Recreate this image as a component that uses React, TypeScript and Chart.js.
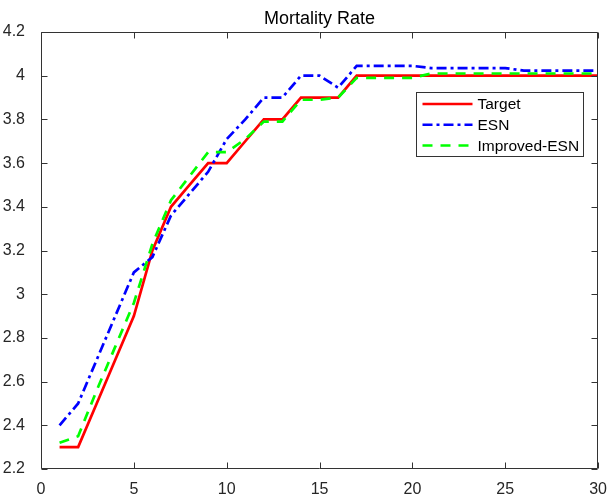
import React, { useEffect, useRef } from "react";
import { Chart, registerables } from "chart.js";

Chart.register(...registerables);

const titleText = "Mortality Rate";
const xValues = [1, 2, 3, 4, 5, 6, 7, 8, 9, 10, 11, 12, 13, 14, 15, 16, 17, 18, 19, 20, 21, 22, 23, 24, 25, 26, 27, 28, 29, 30];
const targetValues = [2.3, 2.3, 2.5, 2.7, 2.9, 3.2, 3.4, 3.5, 3.6, 3.6, 3.7, 3.8, 3.8, 3.9, 3.9, 3.9, 4.0, 4.0, 4.0, 4.0, 4.0, 4.0, 4.0, 4.0, 4.0, 4.0, 4.0, 4.0, 4.0, 4.0];
const esnValues = [2.4, 2.5, 2.7, 2.9, 3.1, 3.17, 3.36, 3.46, 3.56, 3.71, 3.8, 3.9, 3.9, 4.0, 4.0, 3.945, 4.045, 4.045, 4.045, 4.045, 4.035, 4.035, 4.035, 4.035, 4.035, 4.023, 4.023, 4.023, 4.023, 4.023];
const improvedValues = [2.32, 2.35, 2.56, 2.76, 2.96, 3.23, 3.43, 3.54, 3.65, 3.65, 3.71, 3.79, 3.79, 3.89, 3.89, 3.9, 3.99, 3.99, 3.99, 3.99, 4.01, 4.01, 4.01, 4.01, 4.01, 4.01, 4.01, 4.01, 4.01, 4.01];
const seriesNames = ["Target", "ESN", "Improved-ESN"];
const xTicks = [0, 5, 10, 15, 20, 25, 30];
const yTicks = [2.2, 2.4, 2.6, 2.8, 3, 3.2, 3.4, 3.6, 3.8, 4, 4.2];

const FONT = "'Liberation Sans', Arial, Helvetica, sans-serif";
const AXIS_COLOR = "#333333";

const colors = ["#ff0000", "#0000ff", "#00ff00"];
const dashes: number[][] = [[], [10, 4, 3, 4], [10, 8]];

const frame = {
  id: "matlabFrame",
  afterDatasetsDraw(chart: any) {
    const ctx = chart.ctx;
    const a = chart.chartArea;
    const xs = chart.scales.x;
    const ys = chart.scales.y;
    ctx.save();
    ctx.strokeStyle = AXIS_COLOR;
    ctx.lineWidth = 1;
    const L = Math.round(a.left) + 0.5;
    const R = Math.round(a.right) - 0.5;
    const T = Math.round(a.top) + 0.5;
    const B = Math.round(a.bottom) - 0.5;
    ctx.beginPath();
    ctx.rect(L, T, R - L, B - T);
    const tl = 6;
    for (const v of xTicks) {
      const px = Math.round(xs.getPixelForValue(v)) + 0.5;
      ctx.moveTo(px, B);
      ctx.lineTo(px, B - tl);
      ctx.moveTo(px, T);
      ctx.lineTo(px, T + tl);
    }
    for (const v of yTicks) {
      const py = Math.round(ys.getPixelForValue(v)) + 0.5;
      ctx.moveTo(L, py);
      ctx.lineTo(L + tl, py);
      ctx.moveTo(R, py);
      ctx.lineTo(R - tl, py);
    }
    ctx.stroke();

    // title
    ctx.fillStyle = "#000000";
    ctx.font = `18px ${FONT}`;
    ctx.textAlign = "center";
    ctx.textBaseline = "alphabetic";
    ctx.fillText(titleText, (a.left + a.right) / 2, a.top - 8);

    // legend
    const bw = 167;
    const bh = 64;
    const bx = Math.round(a.right - 15 - bw) + 0.5;
    const by = Math.round(a.top + 60) + 0.5;
    ctx.fillStyle = "#ffffff";
    ctx.fillRect(bx, by, bw, bh);
    ctx.strokeStyle = AXIS_COLOR;
    ctx.lineWidth = 1;
    ctx.strokeRect(bx, by, bw, bh);
    ctx.font = `15.5px ${FONT}`;
    ctx.textAlign = "left";
    ctx.textBaseline = "middle";
    seriesNames.forEach((name, i) => {
      const cy = by + 11.5 + i * 20.8;
      ctx.save();
      ctx.strokeStyle = colors[i];
      ctx.lineWidth = 2.5;
      ctx.setLineDash(dashes[i]);
      ctx.beginPath();
      ctx.moveTo(bx + 6, cy);
      ctx.lineTo(bx + 56, cy);
      ctx.stroke();
      ctx.restore();
      ctx.fillStyle = "#000000";
      ctx.fillText(name, bx + 61, cy + 1);
    });
    ctx.restore();
  },
};

export default function App() {
  const ref = useRef<HTMLCanvasElement | null>(null);
  useEffect(() => {
    if (!ref.current) return;
    const allSeries = [targetValues, esnValues, improvedValues];
    const chart = new Chart(ref.current, {
      type: "line",
      data: {
        datasets: allSeries.map((vals, i) => ({
          label: seriesNames[i],
          data: xValues.map((x, j) => ({ x, y: vals[j] })),
          borderColor: colors[i],
          backgroundColor: colors[i],
          borderWidth: 2.7,
          borderDash: dashes[i],
          pointRadius: 0,
          tension: 0,
          fill: false,
          order: 2 - i,
        })),
      },
      options: {
        responsive: false,
        animation: false,
        devicePixelRatio: 1,
        layout: { padding: { top: 32, right: 11, left: 0, bottom: 0 } },
        plugins: {
          legend: { display: false },
          title: { display: false },
          tooltip: { enabled: false },
        },
        scales: {
          x: {
            type: "linear",
            min: 0,
            max: 30,
            afterBuildTicks: (s: any) => {
              s.ticks = xTicks.map((v) => ({ value: v }));
            },
            afterFit: (s: any) => {
              s.height = 28;
            },
            grid: { display: false },
            border: { display: false },
            ticks: {
              color: "#262626",
              font: { family: FONT, size: 16 },
              padding: 3,
              maxRotation: 0,
              autoSkip: false,
              callback: (v: any) => String(v),
            },
          },
          y: {
            type: "linear",
            min: 2.2,
            max: 4.2,
            afterBuildTicks: (s: any) => {
              s.ticks = yTicks.map((v) => ({ value: v }));
            },
            afterFit: (s: any) => {
              s.width = 41;
            },
            grid: { display: false },
            border: { display: false },
            ticks: {
              color: "#262626",
              font: { family: FONT, size: 16 },
              padding: 8,
              autoSkip: false,
              callback: (v: any) => String(Math.round(Number(v) * 10) / 10),
            },
          },
        },
      },
      plugins: [frame],
    });
    return () => chart.destroy();
  }, []);
  return (
    <div style={{ position: "fixed", left: 0, top: 0, width: 610, height: 497, background: "#ffffff" }}>
      <canvas ref={ref} width={610} height={497} style={{ display: "block", width: 610, height: 497 }} />
    </div>
  );
}
